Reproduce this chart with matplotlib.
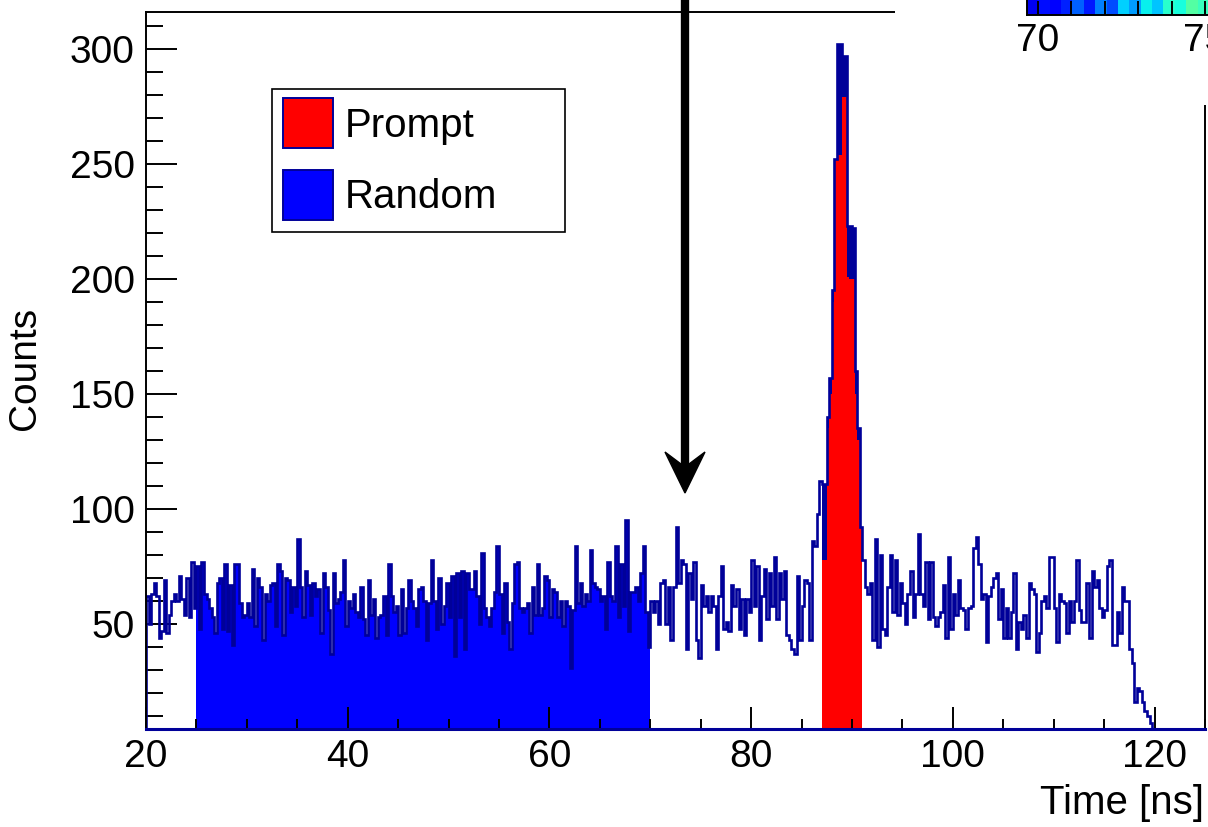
import matplotlib
matplotlib.use("Agg")
import matplotlib.pyplot as plt
import numpy as np
from matplotlib.patches import Rectangle, Polygon
from matplotlib.lines import Line2D

plt.rcParams['font.family'] = ['Liberation Sans', 'DejaVu Sans']

# =============================================================================
# histogram contents, 0.25 ns bins
# =============================================================================
bin_w = 0.25
x_start = 20.0

counts_20_25 = [62, 50, 63, 68, 62, 44, 47, 69, 46, 54, 60, 63, 60, 71, 61, 54, 70, 53, 77, 57]
counts_25_30 = [75, 48, 77, 63, 61, 57, 53, 46, 68, 70, 48, 76, 47, 67, 41, 76, 76, 59, 53, 54]
counts_30_41 = [59, 53, 74, 49, 70, 66, 43, 63, 60, 67, 68, 49, 76, 73, 45, 70, 69, 55, 66, 58,
                87, 66, 53, 73, 67, 54, 68, 62, 65, 46, 72, 66, 56, 37, 72, 59, 61, 64, 78, 49,
                60, 57, 63, 55]
counts_41_51 = [53, 66, 52, 45, 69, 54, 61, 44, 53, 54, 62, 45, 76, 62, 55, 58, 45, 65, 46, 57,
                69, 60, 57, 49, 65, 66, 60, 43, 59, 78, 60, 48, 70, 50, 58, 68, 53, 71, 36, 72]
counts_51_62 = [53, 73, 39, 72, 65, 65, 73, 62, 50, 81, 57, 53, 49, 57, 64, 84, 63, 46, 68, 51,
                39, 59, 76, 77, 57, 55, 57, 59, 46, 66, 54, 76, 54, 57, 71, 69, 53, 65, 64, 53,
                60, 49, 60, 58]
counts_62_70 = [31, 56, 84, 59, 68, 58, 63, 60, 82, 68, 66, 65, 60, 62, 48, 77, 62, 60, 84, 53,
                76, 58, 95, 47, 64, 64, 66, 60, 72, 84, 55, 40]
counts_70_87 = [60, 55, 60, 50, 68, 69, 50, 66, 43, 66, 92, 68, 78, 76, 39, 72, 61, 77, 43, 35,
                67, 58, 62, 55, 62, 58, 39, 62, 75, 48, 51, 47, 67, 58, 65, 48, 61, 45, 61, 55,
                78, 58, 75, 43, 62, 74, 52, 72, 58, 79, 52, 72, 61, 73, 45, 43, 39, 37, 71, 43,
                58, 69, 68, 43, 86, 84, 98, 112]
counts_87_91 = [111, 111, 140, 157, 195, 252, 302, 302, 297, 297, 223, 223, 222, 160, 135, 92]
counts_91_97 = [78, 66, 63, 68, 43, 87, 40, 80, 48, 45, 66, 80, 55, 78, 54, 68, 59, 50, 63, 73,
                53, 63, 89, 63]
counts_97_120 = [58, 77, 52, 77, 53, 49, 53, 55, 67,
                 44, 79, 48, 63, 54, 69, 57, 56, 48, 57,
                 58, 83, 88, 76, 61, 63, 42, 62, 66, 70,
                 72, 52, 65, 44, 57, 44, 55, 72, 39, 51,
                 48, 54, 44, 68, 65, 63, 38, 46, 60, 62,
                 57, 79, 79, 57, 42, 63, 60, 59, 46, 60,
                 51, 60, 78, 56, 51, 51, 68, 44, 73, 66,
                 69, 57, 53, 56, 75, 78, 41, 41, 55, 46,
                 66, 60, 60, 39, 33, 16, 22, 21, 16, 12, 10, 7, 3]

# prompt window (red), 87 - 91 ns
prompt_87_91 = [78, 78, 135, 150, 190, 252, 254, 254, 279, 279, 201, 200, 200, 150, 130, 92]

random_window = (25.0, 70.0)
prompt_window = (87.0, 91.0)

# bit of the 2D inset that sticks into the top right corner
inset_strip = [[0.10, 0.14, 0.12, 0.16, 0.22, 0.15, 0.25, 0.20, 0.33, 0.28, 0.36, 0.32,
                0.40, 0.38, 0.45, 0.42, 0.55, 0.50, 0.58, 0.55, 0.62, 0.60, 0.66, 0.64],
               [0.15, 0.10, 0.22, 0.25, 0.20, 0.30, 0.28, 0.35, 0.33, 0.40, 0.36, 0.45,
                0.42, 0.50, 0.47, 0.55, 0.52, 0.60, 0.57, 0.64, 0.62, 0.68, 0.66, 0.72]]
inset_ticks = [70, 75]

counts = np.concatenate([counts_20_25, counts_25_30, counts_30_41, counts_41_51, counts_51_62,
                         counts_62_70, counts_70_87, counts_87_91, counts_91_97, counts_97_120])
edges = x_start + bin_w * np.arange(len(counts) + 1)

def idx(t):
    return int(round((t - x_start) / bin_w))

# =============================================================================
# plotting (ROOT look)
# =============================================================================
W, H = 1208, 827
fig = plt.figure(figsize=(W / 100, H / 100), dpi=100)
fig.set_facecolor('w')

def fx(px):
    return px / W

def fy(py):
    return 1 - py / H

navy = '#000099'
ax = fig.add_axes([fx(146), fy(729), fx(1205) - fx(146), fy(12) - fy(729)])

r0, r1 = idx(random_window[0]), idx(random_window[1])
p0, p1 = idx(prompt_window[0]), idx(prompt_window[1])

ax.stairs(counts[r0:r1], edges[r0:r1 + 1], fill=True, color='#0000ff', zorder=1)
ax.stairs(counts[p0:p1], edges[p0:p1 + 1], fill=True, color=navy, zorder=1)
ax.stairs(prompt_87_91, edges[p0:p1 + 1], fill=True, color='#ff0000', zorder=1.1)
ax.stairs(counts, edges, color=navy, linewidth=1.9, zorder=2)

ax.set_xlim(20, 125)
ax.set_ylim(4.35, 316)
ax.set_xticks(np.arange(20, 121, 20))
ax.set_xticks(np.arange(20, 126, 5), minor=True)
ax.set_yticks(np.arange(50, 301, 50))
ax.set_yticks(np.arange(10, 316, 10), minor=True)
ax.tick_params(axis='x', which='major', direction='in', length=16, width=1.4, labelsize=28, pad=7)
ax.tick_params(axis='x', which='minor', direction='in', length=7.5, width=1.4)
ax.tick_params(axis='y', which='major', direction='in', length=22, width=1.4, labelsize=28, pad=8)
ax.tick_params(axis='y', which='minor', direction='in', length=12, width=1.4)
for s in ax.spines.values():
    s.set_linewidth(1.4)
ax.spines['bottom'].set_color(navy)
ax.spines['bottom'].set_linewidth(2.2)

fig.text(fx(25), fy(368), 'Counts', rotation=90, ha='center', va='center', fontsize=28)
fig.text(fx(1204), fy(803), 'Time [ns]', ha='right', va='center', fontsize=29)

# legend
fig.add_artist(Rectangle((fx(272), fy(232)), fx(565) - fx(272), fy(89) - fy(232),
                         transform=fig.transFigure, facecolor='w', edgecolor='k', lw=1.2, zorder=7))
fig.add_artist(Rectangle((fx(283), fy(148)), fx(333) - fx(283), fy(98) - fy(148),
                         transform=fig.transFigure, facecolor='#ff0000', edgecolor=navy, lw=1.4, zorder=8))
fig.add_artist(Rectangle((fx(283), fy(220)), fx(333) - fx(283), fy(170) - fy(220),
                         transform=fig.transFigure, facecolor='#0000ff', edgecolor=navy, lw=1.4, zorder=8))
fig.text(fx(345), fy(126), 'Prompt', ha='left', va='center', fontsize=29, zorder=9)
fig.text(fx(345), fy(197), 'Random', ha='left', va='center', fontsize=29, zorder=9)

# arrow
fig.add_artist(Line2D([fx(685), fx(685)], [fy(-5), fy(470)], transform=fig.transFigure,
                      color='k', lw=6, zorder=8, solid_capstyle='butt'))
fig.add_artist(Polygon([(fx(685), fy(493)), (fx(665), fy(452)), (fx(685), fy(467)), (fx(705), fy(452))],
                       closed=True, transform=fig.transFigure, facecolor='k', edgecolor='k', zorder=8))

# inset pad covering the top right corner
fig.add_artist(Rectangle((fx(895), fy(105)), 1 - fx(895) + 0.01, fy(0) - fy(105) + 0.01,
                         transform=fig.transFigure, facecolor='w', edgecolor='none', zorder=5))
sx0 = 70 - 11 / 33.4
sx1 = 70 + (1300 - 1038) / 33.4
axi = fig.add_axes([fx(1027), fy(15), fx(1300) - fx(1027), fy(-40) - fy(15)])
axi.set_zorder(6)
axi.imshow(np.array(inset_strip), cmap='jet', vmin=0, vmax=1, aspect='auto',
           extent=[sx0, sx1, 0, 2], origin='lower', interpolation='nearest')
axi.set_xlim(sx0, sx1)
axi.set_ylim(0, 2)
axi.set_yticks([])
axi.set_xticks(inset_ticks)
axi.set_xticklabels([str(t) for t in inset_ticks])
axi.set_xticks(np.arange(70, 78, 1), minor=True)
axi.tick_params(axis='x', which='both', direction='in', length=10, width=1.4, labelsize=28, pad=6)
for s in axi.spines.values():
    s.set_linewidth(1.4)

plt.savefig('out.png', dpi=100)
